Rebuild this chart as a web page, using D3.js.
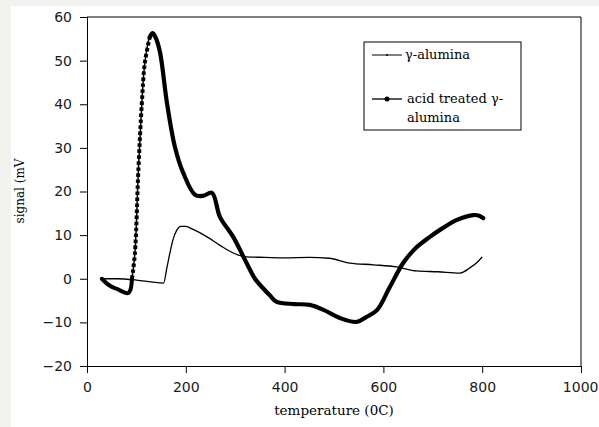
<!DOCTYPE html>
<html>
<head>
<meta charset="utf-8">
<script src="https://cdn.jsdelivr.net/npm/d3@7"></script>
<style>
  body { margin: 0; background: #f2f2ee; }
  svg { display: block; }
</style>
</head>
<body>
<svg id="chart" width="599" height="427"></svg>
<script>
// Data
const xTicks = [0, 200, 400, 600, 800, 1000];
const yTicks = [-20, -10, 0, 10, 20, 30, 40, 50, 60];

const aluminaTemp = [30, 60, 100, 130, 155, 162, 168, 174, 182, 190, 200, 215, 243, 270, 296, 323, 360, 400, 450, 490, 532, 580, 627, 667, 710, 755, 775, 790, 800];
const aluminaSignal = [0, 0, -0.3, -0.7, -1.0, 2.7, 6, 8.9, 11.2, 12, 12, 11.3, 9.6, 7.6, 5.9, 5.0, 4.9, 4.8, 4.9, 4.7, 3.6, 3.2, 2.7, 1.8, 1.6, 1.3, 2.5, 3.8, 5.0];

const acidTemp = [30, 45, 60, 83, 88, 91, 97, 104, 111, 117, 127, 133, 140, 148, 162, 178, 195, 219, 235, 253, 269, 296, 323, 340, 355, 370, 384, 420, 451, 480, 512, 546, 565, 587, 613, 640, 665, 694, 720, 749, 782, 795, 802];
const acidSignal = [0, -1.5, -2.3, -3.3, -2.5, 0, 5.9, 25, 40.2, 49.4, 55.4, 56.3, 55, 51.8, 40.2, 30.2, 24.2, 19.2, 19, 19.7, 14.2, 9.6, 3.6, 0, -2, -3.8, -5.3, -5.8, -6.0, -7.2, -9.0, -9.9, -8.8, -7.2, -1.9, 3.6, 7, 9.6, 11.6, 13.5, 14.6, 14.4, 13.9];

const svg = d3.select("#chart");

// white figure panel
svg.append("rect")
  .attr("x", 11).attr("y", 6)
  .attr("width", 588).attr("height", 421)
  .attr("fill", "#fff");

const x = d3.scaleLinear().domain([0, 1000]).range([87, 581]);
const y = d3.scaleLinear().domain([-20, 60]).range([366, 17]);

// frame (top and right)
svg.append("path")
  .attr("d", `M${x(0)},${y(60)}H${x(1000)}V${y(-20)}`)
  .attr("fill", "none")
  .attr("stroke", "#000")
  .attr("stroke-width", 1);

// Axes
const xAxis = svg.append("g")
  .attr("transform", `translate(0,${y(-20)})`)
  .call(d3.axisBottom(x).tickValues(xTicks).tickFormat(d3.format("d")).tickSize(7).tickPadding(9));
const yAxis = svg.append("g")
  .attr("transform", `translate(${x(0)},0)`)
  .call(d3.axisLeft(y).tickValues(yTicks).tickSize(7).tickPadding(8));

[xAxis, yAxis].forEach(a => {
  a.select(".domain").attr("stroke", "#000");
  a.selectAll(".tick line").attr("stroke", "#000");
  a.selectAll(".tick text")
    .attr("fill", "#1a1a1a")
    .style("font-family", "'DejaVu Sans', Verdana, sans-serif")
    .style("font-size", "14px");
});

// last x label sits at the right edge, keep it inside the page
xAxis.selectAll(".tick text")
  .filter(d => d === 1000)
  .attr("text-anchor", "end")
  .attr("x", 598 - x(1000));

// Axis titles
svg.append("text")
  .attr("x", 334).attr("y", 415)
  .attr("text-anchor", "middle")
  .style("font-family", "'DejaVu Serif', serif")
  .style("font-size", "13.5px")
  .text("temperature (0C)");

svg.append("text")
  .attr("transform", "translate(24,191) rotate(-90)")
  .attr("text-anchor", "middle")
  .style("font-family", "'DejaVu Serif', serif")
  .style("font-size", "12px")
  .text("signal (mV");

// Series
const line = d3.line()
  .x(d => x(d[0]))
  .y(d => y(d[1]))
  .curve(d3.curveMonotoneX);

const acidLine = d3.line()
  .x(d => x(d[0]))
  .y(d => y(d[1]))
  .curve(d3.curveCatmullRom);

const aluminaPts = aluminaTemp.map((t, i) => [t, aluminaSignal[i]]);
const acidPts = acidTemp.map((t, i) => [t, acidSignal[i]]);

svg.append("path")
  .datum(aluminaPts)
  .attr("d", line)
  .attr("fill", "none")
  .attr("stroke", "#000")
  .attr("stroke-width", 1.3);

// acid treated: thin base line, dotted look on the steep rise, thick elsewhere
svg.append("path")
  .datum(acidPts)
  .attr("d", acidLine)
  .attr("fill", "none")
  .attr("stroke", "#000")
  .attr("stroke-width", 1.5);

const riseStart = acidTemp.indexOf(91);
const riseEnd = acidTemp.indexOf(127);

svg.append("path")
  .datum(acidPts.slice(0, riseStart + 1))
  .attr("d", acidLine)
  .attr("fill", "none")
  .attr("stroke", "#000")
  .attr("stroke-width", 4)
  .attr("stroke-linejoin", "round")
  .attr("stroke-linecap", "round");

svg.append("path")
  .datum(acidPts.slice(riseStart, riseEnd + 1))
  .attr("d", acidLine)
  .attr("fill", "none")
  .attr("stroke", "#000")
  .attr("stroke-width", 4)
  .attr("stroke-dasharray", "3.5,2.5");

svg.append("path")
  .datum(acidPts.slice(riseEnd))
  .attr("d", acidLine)
  .attr("fill", "none")
  .attr("stroke", "#000")
  .attr("stroke-width", 4.2)
  .attr("stroke-linejoin", "round")
  .attr("stroke-linecap", "round");

// Legend
const legend = svg.append("g");
legend.append("rect")
  .attr("x", 364).attr("y", 42)
  .attr("width", 157).attr("height", 88)
  .attr("fill", "#fff")
  .attr("stroke", "#000")
  .attr("stroke-width", 1);

legend.append("line")
  .attr("x1", 372).attr("x2", 402).attr("y1", 55).attr("y2", 55)
  .attr("stroke", "#000").attr("stroke-width", 1);
legend.append("circle").attr("cx", 387).attr("cy", 55).attr("r", 1).attr("fill", "#000");

legend.append("line")
  .attr("x1", 372).attr("x2", 402).attr("y1", 99).attr("y2", 99)
  .attr("stroke", "#000").attr("stroke-width", 1.3);
legend.append("circle").attr("cx", 387).attr("cy", 99).attr("r", 2.5).attr("fill", "#000");

const legendText = legend.append("g")
  .style("font-family", "'DejaVu Serif', serif")
  .style("font-size", "13px");
legendText.append("text").attr("x", 405).attr("y", 59).text("γ-alumina");
legendText.append("text").attr("x", 407).attr("y", 103).text("acid treated γ-");
legendText.append("text").attr("x", 407).attr("y", 122).text("alumina");
</script>
</body>
</html>
